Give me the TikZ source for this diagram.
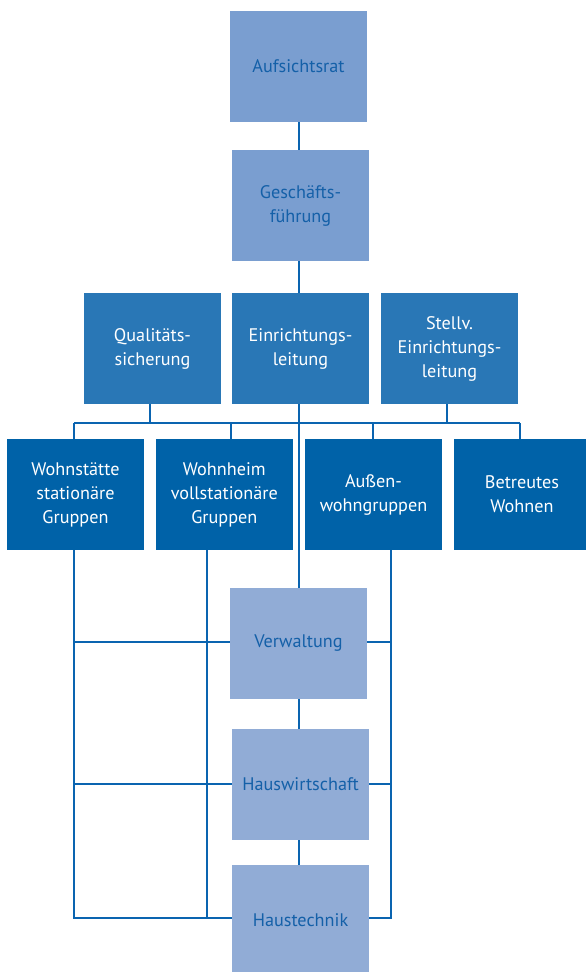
\documentclass[tikz,border=0pt]{standalone}
\usepackage{fontspec}
\setmainfont{PT Sans}
\usetikzlibrary{backgrounds}
\definecolor{topfill}{HTML}{7A9ED0}
\definecolor{midfill}{HTML}{2977B6}
\definecolor{rowfill}{HTML}{0062A8}
\definecolor{lowfill}{HTML}{91ACD6}
\definecolor{darktext}{HTML}{1460A8}
\definecolor{linecol}{HTML}{0A64B0}
\tikzset{
  box/.style={minimum width=137pt, minimum height=111pt, inner sep=0pt, align=center,
    font=\fontsize{18.2}{24}\selectfont},
  lightbox/.style={box, fill=topfill, text=darktext},
  lowbox/.style={box, fill=lowfill, text=darktext},
  midbox/.style={box, fill=midfill, text=white},
  rowbox/.style={box, fill=rowfill, text=white},
  conn/.style={draw=linecol, line width=2pt}
}
\begin{document}
\begin{tikzpicture}[x=1pt,y=-1pt]
\useasboundingbox (0,0) rectangle (586,972);
\node[lightbox] (auf) at (298.5,66.5) {Aufsichtsrat};
\node[lightbox] (gf) at (300.5,205.5) {Geschäfts-\\führung};
\node[midbox] (qs) at (152.5,348.5) {Qualitäts-\\sicherung};
\node[midbox] (el) at (300.5,348.5) {Einrichtungs-\\leitung};
\node[midbox] (st) at (449.5,348.5) {Stellv.\\Einrichtungs-\\leitung};
\node[rowbox] (ws) at (75.5,494.5) {Wohnstätte\\stationäre\\Gruppen};
\node[rowbox] (wh) at (224.3,494.5) {Wohnheim\\vollstationäre\\Gruppen};
\node[rowbox] (ag) at (373.5,494.5) {Außen-\\wohngruppen};
\node[rowbox] (bw) at (522,494.5) {Betreutes\\Wohnen};
\node[lowbox] (vw) at (298.5,643.5) {Verwaltung};
\node[lowbox] (hw) at (300.5,784.5) {Hauswirtschaft};
\node[lowbox] (ht) at (300.5,920.5) {Haustechnik};
% line positions
\coordinate (sp) at (299,0);
\coordinate (bus) at (0,423);
\coordinate (busL) at (74,423);
\coordinate (busR) at (520,423);
\coordinate (xqs) at (149.5,0);
\coordinate (xst) at (446.5,0);
\coordinate (xwh) at (230.6,0);
\coordinate (xag) at (372.6,0);
\coordinate (gA) at (74,0);
\coordinate (gB) at (207.4,0);
\coordinate (gC) at (391,0);
\coordinate (h1) at (0,642);
\coordinate (h2) at (0,784);
\coordinate (h3) at (0,918);
\begin{scope}[on background layer]
\draw[conn] (sp |- auf.south) -- (sp |- gf.north);
\draw[conn] (sp |- gf.south) -- (sp |- el.north);
\draw[conn] (sp |- el.south) -- (sp |- vw.north);
\draw[conn] (sp |- vw.south) -- (sp |- hw.north);
\draw[conn] (sp |- hw.south) -- (sp |- ht.north);
\draw[conn] (busL) -- (busR);
\draw[conn] (xqs |- qs.south) -- (xqs |- bus);
\draw[conn] (xst |- st.south) -- (xst |- bus);
\draw[conn] (busL) -- (busL |- ws.north);
\draw[conn] (xwh |- bus) -- (xwh |- wh.north);
\draw[conn] (xag |- bus) -- (xag |- ag.north);
\draw[conn] (busR) -- (busR |- bw.north);
\draw[conn] (gA |- ws.south) -- (gA |- h3) -- (gC |- h3) -- (gC |- ag.south);
\draw[conn] (gB |- wh.south) -- (gB |- h3);
\draw[conn] (gA |- h1) -- (gC |- h1);
\draw[conn] (gA |- h2) -- (gC |- h2);
\end{scope}
\end{tikzpicture}
\end{document}
